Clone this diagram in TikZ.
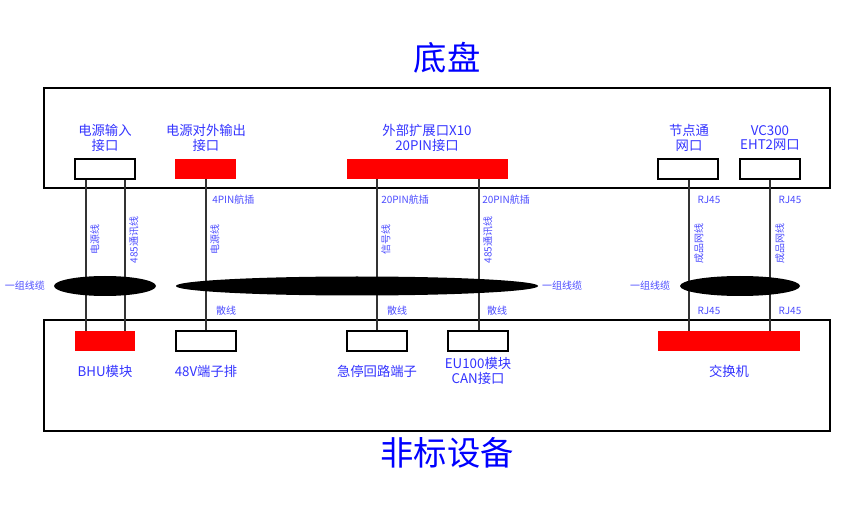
\documentclass[tikz,border=0pt]{standalone}
\usepackage{fontspec}
\setmainfont{Liberation Serif}
\newfontfamily\cjk{Noto Sans CJK SC}
\begin{document}
\begin{tikzpicture}[x=0.75pt,y=-0.75pt,
  lbl/.style={font=\cjk\fontsize{10}{11}\selectfont,text=blue!80!white,align=center,inner sep=0pt},
  sm/.style={font=\cjk\fontsize{7.5}{8}\selectfont,text=blue!70!white,inner sep=0pt},
  big/.style={font=\cjk\fontsize{25}{27}\selectfont,text=blue,inner sep=0pt},
  wport/.style={draw=black,fill=white,line width=0.8pt},
  rport/.style={fill=red},
  wire/.style={draw=black!80,line width=0.8pt},
  bundle/.style={fill=black}]
\useasboundingbox (0,0) rectangle (865,506);
\node[big] (t1) at (447,58) {底盘};
\node[big] (t2) at (447,453) {非标设备};
\draw[line width=0.8pt] (44,88) rectangle (830,188);
\draw[line width=0.8pt] (44,320) rectangle (830,431);
% wires
\foreach \x/\a/\b in {86/179/331,125/179/331,206/179/331,377/179/331,479/179/331,689/179/331,770/179/331}
  \draw[wire] (\x,\a) -- (\x,\b);
% bundles
\fill[bundle] (105,286) ellipse [x radius=51,y radius=10];
\fill[bundle] (357,286) ellipse [x radius=181,y radius=9.5];
\fill[bundle] (740,286) ellipse [x radius=60,y radius=10];
% top ports
\draw[wport] (75,159) rectangle (135,179);
\fill[rport] (175,159) rectangle (236,179);
\fill[rport] (347,159) rectangle (508,179);
\draw[wport] (658,159) rectangle (718,179);
\draw[wport] (740,159) rectangle (800,179);
\node[lbl] (p1) at (105,138) {电源输入\\接口};
\node[lbl] (p2) at (206,138) {电源对外输出\\接口};
\node[lbl] (p3) at (427,138) {外部扩展口X10\\20PIN接口};
\node[lbl] (p4) at (689,138) {节点通\\网口};
\node[lbl] (p5) at (770,138) {VC300\\EHT2网口};
% bottom ports
\fill[rport] (75,331) rectangle (135,351);
\draw[wport] (176,331) rectangle (236,351);
\draw[wport] (347,331) rectangle (407,351);
\draw[wport] (448,331) rectangle (508,351);
\fill[rport] (658,331) rectangle (800,351);
\node[lbl] (b1) at (105,371) {BHU模块};
\node[lbl] (b2) at (206,371) {48V端子排};
\node[lbl] (b3) at (377,371) {急停回路端子};
\node[lbl] (b4) at (478,371) {EU100模块\\CAN接口};
\node[lbl] (b5) at (729,371) {交换机};
% small labels
\node[sm,anchor=west] (s1) at (212,200) {4PIN航插};
\node[sm,anchor=west] (s2) at (381,200) {20PIN航插};
\node[sm,anchor=west] (s3) at (482,200) {20PIN航插};
\node[sm] (s4) at (709,200) {RJ45};
\node[sm] (s5) at (790,200) {RJ45};
\node[sm] (s6) at (226,311) {散线};
\node[sm] (s7) at (397,311) {散线};
\node[sm] (s8) at (497,311) {散线};
\node[sm] (s9) at (709,311) {RJ45};
\node[sm] (s10) at (790,311) {RJ45};
\node[sm,rotate=90,anchor=north] (r1) at (90,240) {电源线};
\node[sm,rotate=90,anchor=north] (r2) at (129,240) {485通讯线};
\node[sm,rotate=90,anchor=north] (r3) at (210,240) {电源线};
\node[sm,rotate=90,anchor=north] (r4) at (381,240) {信号线};
\node[sm,rotate=90,anchor=north] (r5) at (483,240) {485通讯线};
\node[sm,rotate=90,anchor=north] (r6) at (694,244) {成品网线};
\node[sm,rotate=90,anchor=north] (r7) at (775,244) {成品网线};
\node[sm] (g1) at (25,286) {一组线缆};
\node[sm] (g2) at (562,286) {一组线缆};
\node[sm] (g3) at (650,286) {一组线缆};
\end{tikzpicture}
\end{document}
